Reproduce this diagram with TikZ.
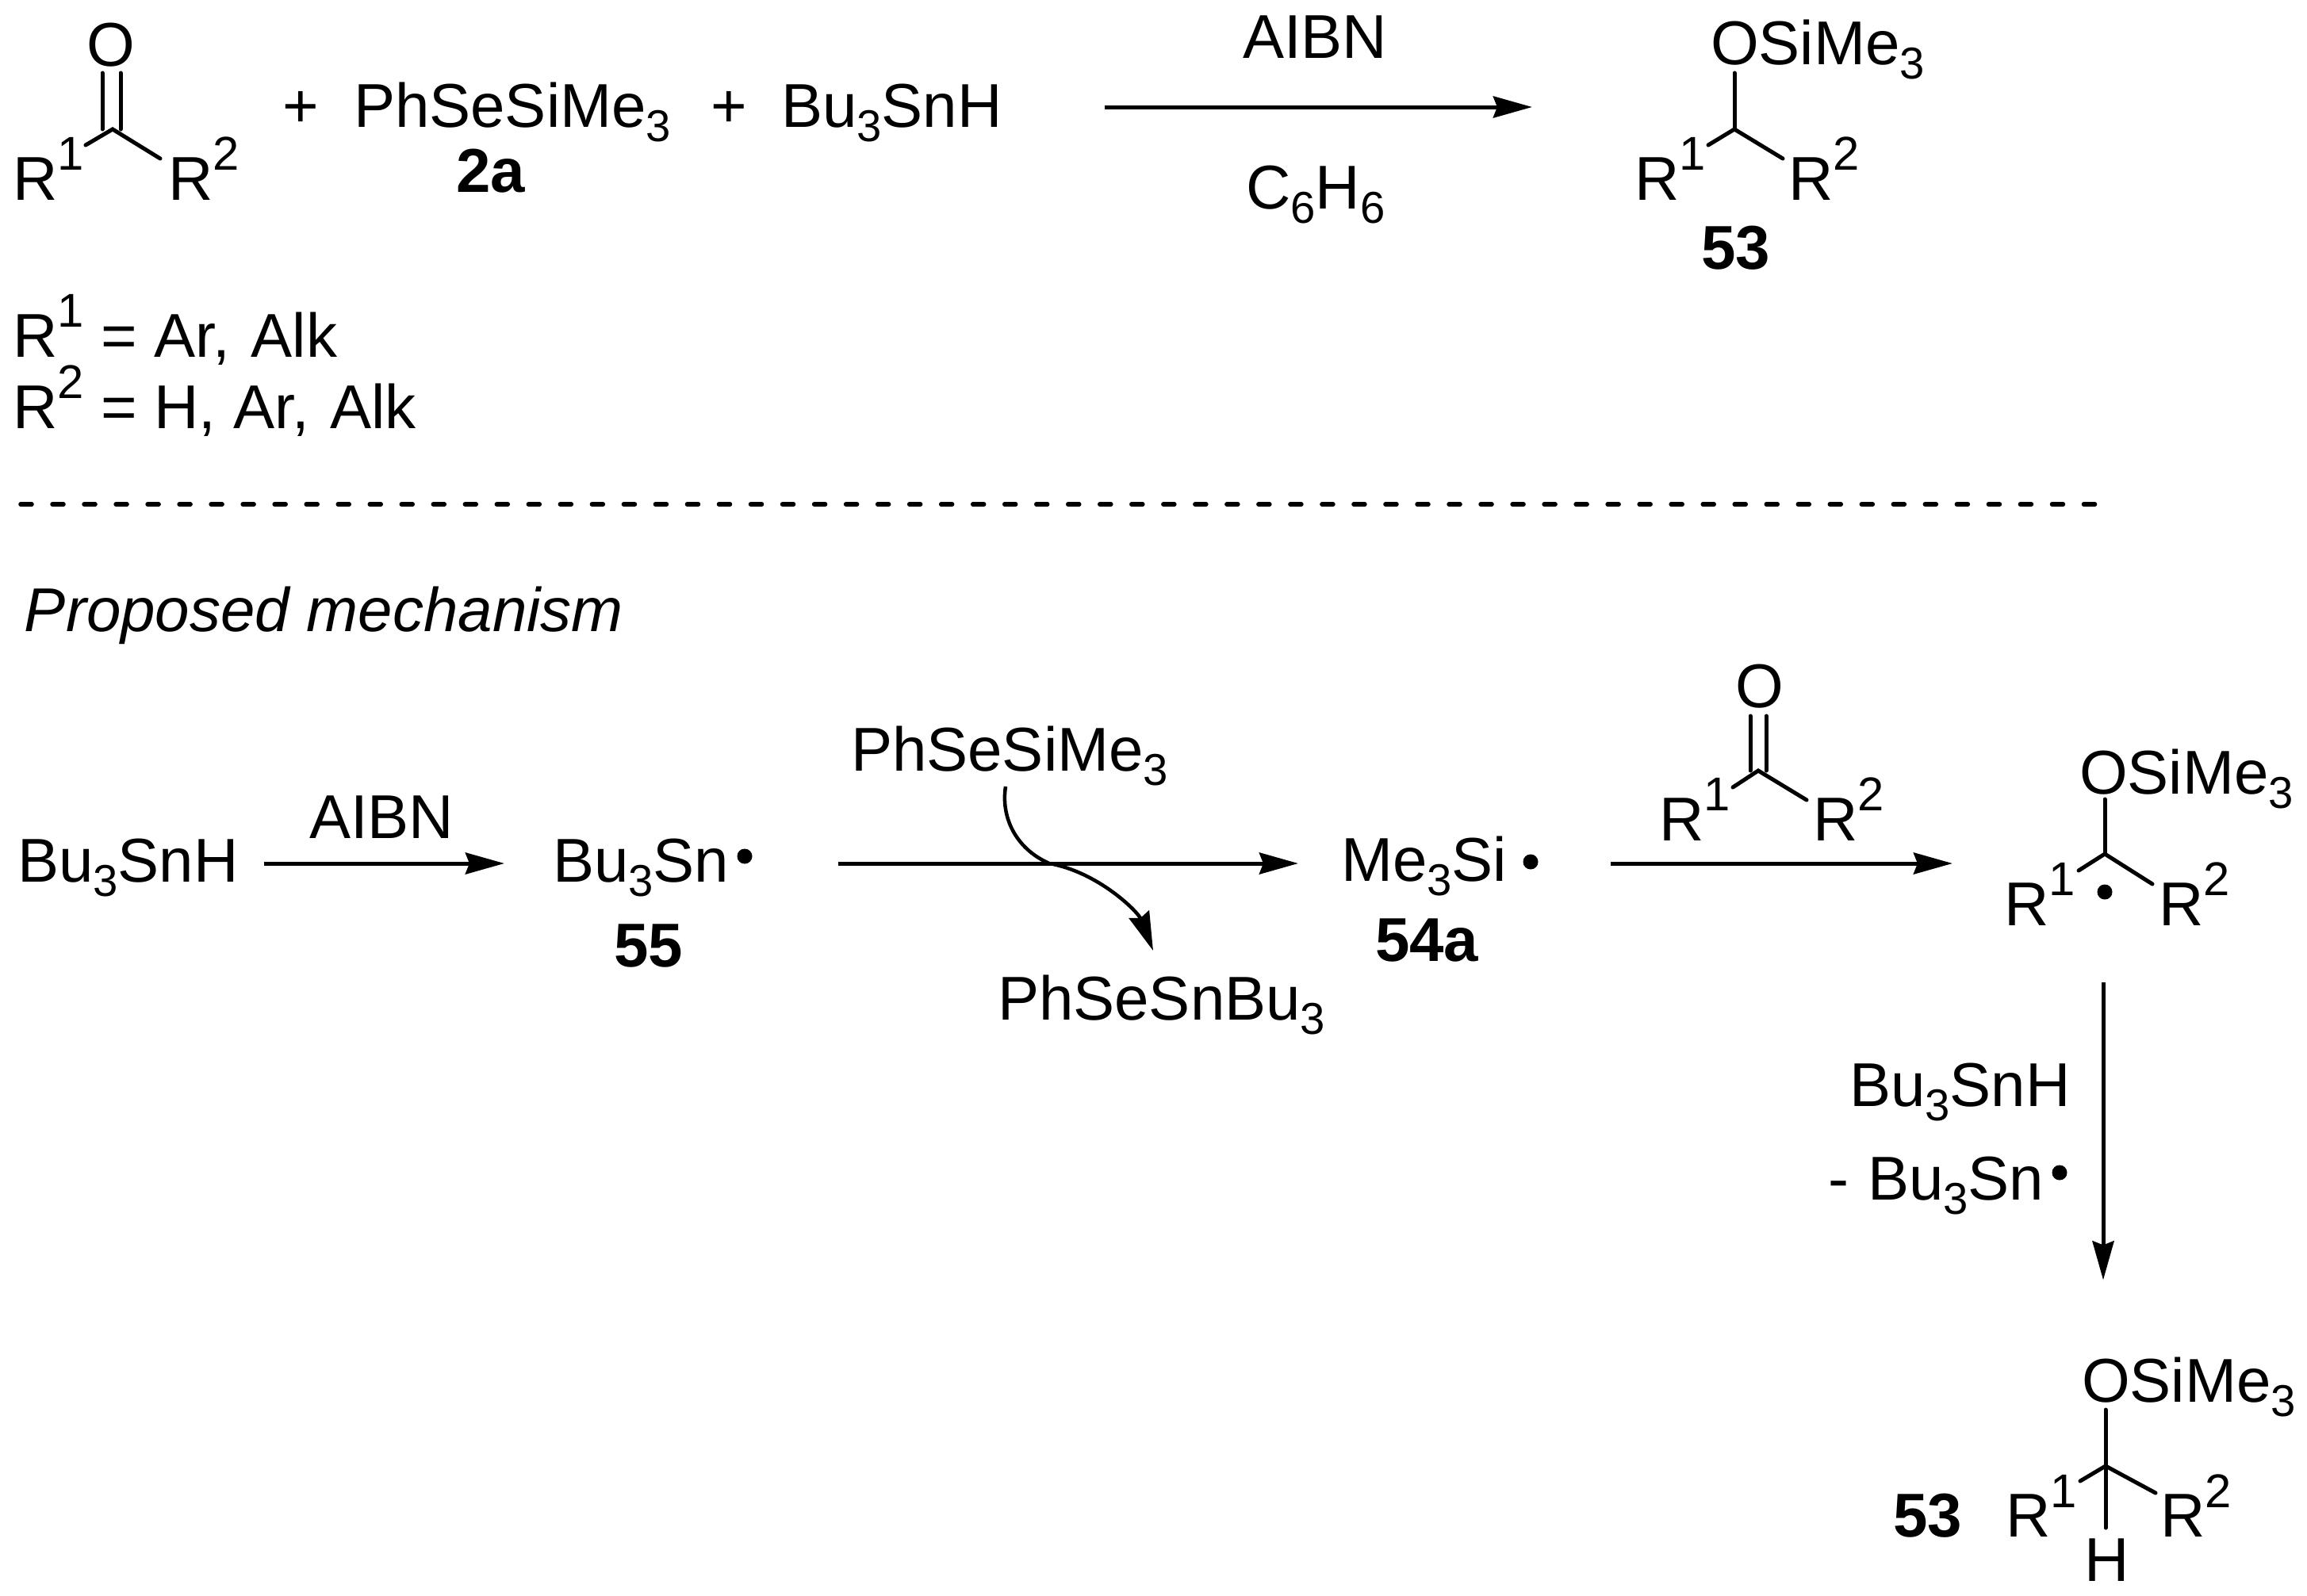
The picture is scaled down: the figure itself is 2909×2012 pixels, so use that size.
\documentclass[tikz,border=0pt]{standalone}
\usepackage{fontspec}
\setmainfont{Liberation Sans}
\usetikzlibrary{arrows.meta}
\newcommand{\subn}[1]{\raisebox{-0.18cm}{\fontsize{16}{16}\selectfont #1}}
\newcommand{\supn}[1]{\raisebox{0.37cm}{\fontsize{17}{17}\selectfont #1}}
\tikzset{
	every node/.style = {inner sep=0pt, outer sep=0pt},
	chem/.style = {anchor=base west, font=\fontsize{22.2}{26}\selectfont},
	cmpd/.style = {anchor=base west, font=\fontsize{22.2}{26}\selectfont\bfseries},
	bond/.style = {line width=0.05cm, line cap=round},
	rxn/.style = {line width=0.05cm, -{Stealth[length=0.49cm,width=0.27cm,inset=0.05cm]}},
	radical/.style = {circle, fill=black, minimum size=0.19cm},
}

\begin{document}
\begin{tikzpicture}[x=0.01cm, y=-0.01cm]
	\useasboundingbox (0,0) rectangle (2909,2012);

	\node[chem] (oa) at (110,83) {O};
	\node[chem] (r1a) at (16,252) {R\supn{1}};
	\node[chem] (r2a) at (212,252) {R\supn{2}};
	\coordinate (ca) at (142,163);
	\coordinate (cal) at (108,183);
	\coordinate (car) at (202,200);
	\draw[bond] (129,92) -- (129,163);
	\draw[bond] (152,92) -- (152,163);
	\draw[bond] (cal) -- (ca) -- (car);

	\node[chem] (plusa) at (356,160) {+};
	\node[chem] (selane) at (446,160) {PhSeSiMe\subn{3}};
	\node[cmpd] (lbltwoa) at (575,242) {2a};
	\node[chem] (plusb) at (896,160) {+};
	\node[chem] (hydride) at (985,160) {Bu\subn{3}SnH};

	\node[chem] (aibna) at (1567,73) {AIBN};
	\node[chem] (benzene) at (1571,263) {C\subn{6}H\subn{6}};
	\node[chem] (osib) at (2157,81) {OSiMe\subn{3}};
	\node[chem] (r1b) at (2061,252) {R\supn{1}};
	\node[chem] (r2b) at (2255,252) {R\supn{2}};
	\node[cmpd] (lblfive) at (2145,339) {53};
	\coordinate (cb) at (2187,163);
	\coordinate (cbo) at (2187,92);
	\coordinate (cbl) at (2154,183);
	\coordinate (cbr) at (2248,200);
	\draw[bond] (cbo) -- (cb);
	\draw[bond] (cbl) -- (cb) -- (cbr);
	\coordinate (rowa) at (0,135);
	\draw[rxn, shorten <=1.29cm, shorten >=1.29cm] (hydride.east |- rowa) -- (r1b.west |- rowa);

	\node[chem] (defa) at (16,450) {R\supn{1} = Ar,\hspace{0.05cm} Alk};
	\node[chem] (defb) at (16,540) {R\supn{2} = H, Ar,\hspace{0.05cm} Alk};

	\coordinate (dasha) at (26,636);
	\coordinate (dashb) at (2646,636);
	\draw[line width=0.055cm, line cap=round, dash pattern=on 0.14cm off 0.26cm] (dasha) -- (dashb);

	\node[chem, font=\fontsize{22.2}{26}\selectfont\itshape] (proposed) at (31,796) {Proposed mechanism};

	\node[chem] (snh) at (22,1112) {Bu\subn{3}SnH};
	\node[chem] (aibnb) at (390,1057) {AIBN};
	\node[chem] (sn) at (697,1112) {Bu\subn{3}Sn};
	\node[radical] (dotsn) at (939,1080) {};
	\node[cmpd] (lblsn) at (774,1219) {55};
	\coordinate (rowb) at (0,1089);
	\draw[rxn, shorten <=0.32cm, shorten >=0.61cm] (snh.east |- rowb) -- (sn.west |- rowb);

	\node[chem] (selaneb) at (1073,972) {PhSeSiMe\subn{3}};
	\node[chem] (tinse) at (1258,1286) {PhSeSnBu\subn{3}};
	\node[chem] (si) at (1691,1111) {Me\subn{3}Si};
	\node[radical] (dotsi) at (1930,1087) {};
	\node[cmpd] (lblsi) at (1734,1212) {54a};
	\draw[rxn, shorten <=1.38cm, shorten >=0.54cm] (sn.east |- rowb) -- (si.west |- rowb);
	\coordinate (cvs) at (1268,992);
	\coordinate (cvm) at (1323,1089);
	\coordinate (cve) at (1454,1199);
	\draw[rxn, line width=0.045cm] (cvs) .. controls (1262,1030) and (1280,1070) .. (cvm) .. controls (1385,1100) and (1435,1150) .. (cve);

	\node[chem] (ob) at (2188,892) {O};
	\node[chem] (r1c) at (2092,1060) {R\supn{1}};
	\node[chem] (r2c) at (2286,1060) {R\supn{2}};
	\coordinate (cc) at (2217,972);
	\coordinate (ccl) at (2185,993);
	\coordinate (ccr) at (2278,1009);
	\draw[bond] (2207,903) -- (2207,972);
	\draw[bond] (2227,903) -- (2227,972);
	\draw[bond] (ccl) -- (cc) -- (ccr);

	\node[chem] (osid) at (2622,1001) {OSiMe\subn{3}};
	\node[chem] (r1d) at (2527,1167) {R\supn{1}};
	\node[chem] (r2d) at (2722,1167) {R\supn{2}};
	\node[radical] (dotc) at (2654,1125) {};
	\coordinate (cd) at (2654,1077);
	\coordinate (cdo) at (2654,1008);
	\coordinate (cdl) at (2621,1098);
	\coordinate (cdr) at (2714,1115);
	\draw[bond] (cdo) -- (cd);
	\draw[bond] (cdl) -- (cd) -- (cdr);
	\draw[rxn, shorten <=1.31cm, shorten >=0.65cm] (si.east |- rowb) -- (r1d.west |- rowb);

	\node[chem] (snhb) at (2332,1395) {Bu\subn{3}SnH};
	\node[chem] (minus) at (2305,1513) {-};
	\node[chem] (snb) at (2355,1513) {Bu\subn{3}Sn};
	\node[radical] (dotsnb) at (2597,1479) {};

	\node[chem] (osie) at (2625,1768) {OSiMe\subn{3}};
	\node[chem] (r1e) at (2529,1938) {R\supn{1}};
	\node[chem] (r2e) at (2724,1938) {R\supn{2}};
	\node[chem] (hatom) at (2628,1994) {H};
	\node[cmpd] (lblfiveb) at (2387,1938) {53};
	\coordinate (ce) at (2655,1849);
	\coordinate (ceo) at (2655,1778);
	\coordinate (ceh) at (2655,1927);
	\coordinate (cel) at (2623,1868);
	\coordinate (cer) at (2718,1883);
	\draw[bond] (ceo) -- (ceh);
	\draw[bond] (cel) -- (ce) -- (cer);

	\coordinate (colc) at (2652,0);
	\draw[rxn, shorten <=0.72cm, shorten >=0.97cm] (colc |- r1d.south) -- (colc |- osie.north);
\end{tikzpicture}
\end{document}
